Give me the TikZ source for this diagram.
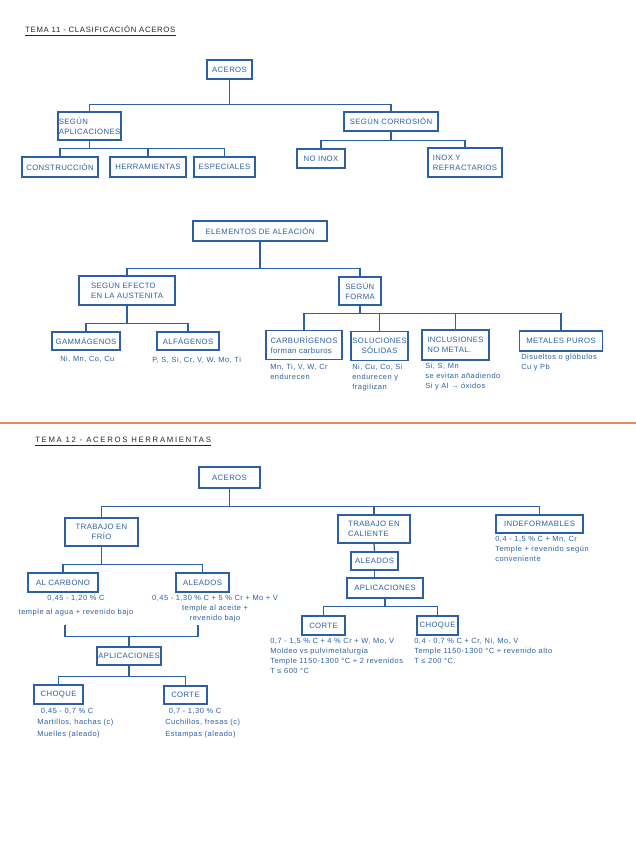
\documentclass[tikz,border=0pt]{standalone}
\usepackage{fontspec}
\setmainfont{Liberation Sans}
\newfontfamily\handcaps[LetterSpace=5]{Liberation Sans}
\newfontfamily\handnote[LetterSpace=7]{Liberation Sans}
\newfontfamily\handtitleA[LetterSpace=9]{Liberation Sans}
\newfontfamily\handtitleB[LetterSpace=22]{Liberation Sans}
\newcommand\bxfont{\fontsize{5.5}{7.2}\selectfont\handcaps}
\newcommand\ntfont{\fontsize{5.3}{7}\selectfont\handnote}
\usepackage{tikz}
\usetikzlibrary{positioning,calc}
\definecolor{ink}{RGB}{44,95,163}
\definecolor{peach}{RGB}{240,135,100}

\begin{document}
\begin{tikzpicture}[x=0.025cm, y=-0.025cm,
  box/.style={draw=ink, line width=0.9pt, inner sep=0pt, text=ink,
              font=\bxfont, align=center},
  wh/.style 2 args={minimum width=#1*0.025cm, minimum height=#2*0.025cm},
  note/.style={font=\ntfont, text=ink, inner sep=0pt, align=left},
  link/.style={draw=ink, line width=0.9pt},
  heading/.style={black!85, anchor=west, inner sep=0pt},
]
\useasboundingbox (0,0) rectangle (636,848);
\fill[white] (0,0) rectangle (636,848);

% ============ TEMA 11: clasificacion aceros ============
\node[heading, font=\fontsize{5.5}{7}\selectfont\handtitleA] (t1) at (25,29) {TEMA 11 - CLASIFICACIÓN ACEROS};
\draw[black!85, line width=0.8pt] ([yshift=-2pt]t1.south west) -- ([yshift=-2pt]t1.south east);

\node[box, wh={45}{19}] (acerosA) at (229.5,69.5) {ACEROS};
\node[box, wh={63}{28}, align=left] (aplicA) at (89.5,126) {SEGÚN\\APLICACIONES};
\node[box, wh={94}{19}] (corrA) at (391,121.5) {SEGÚN CORROSIÓN};

\node[box, wh={76}{20}] (constr) at (60,167) {CONSTRUCCIÓN};
\node[box, wh={76}{20}] (herr) at (148,167) {HERRAMIENTAS};
\node[box, wh={61}{20}] (espec) at (224.5,167) {ESPECIALES};
\node[box, wh={48}{19}] (noinox) at (321,158.5) {NO INOX};
\node[box, wh={74}{29}, align=left] (inox) at (465,162.5) {INOX Y\\REFRACTARIOS};

\draw[link] (acerosA.south) -- ++(0,25) coordinate (j1);
\draw[link] (aplicA.north) |- (j1) -| (corrA.north);
\draw[link] (aplicA.south) -- ++(0,8) coordinate (j2);
\draw[link] (constr.north) |- (j2) -| (espec.north);
\draw[link] (herr.north) -- (herr.north |- j2);
\draw[link] (corrA.south) -- ++(0,9) coordinate (j3);
\draw[link] (noinox.north) |- (j3) -| (inox.north);

% ============ ELEMENTOS DE ALEACION ============
\node[box, wh={134}{20}] (elem) at (260,231) {ELEMENTOS DE ALEACIÓN};
\node[box, wh={96}{29}, align=left] (efecto) at (127,290.5) {SEGÚN EFECTO\\EN LA AUSTENITA};
\node[box, wh={42}{28}, align=left] (forma) at (360,291) {SEGÚN\\FORMA};

\node[box, wh={68}{18}] (gamma) at (86,341) {GAMMÁGENOS};
\node[box, wh={62}{18}] (alfa) at (188,341) {ALFÁGENOS};
\node[box, wh={76}{29}, align=left] (carbu) at (304,345) {CARBURÍGENOS\\forman carburos};
\node[box, wh={57}{29}] (soluc) at (379.5,346) {SOLUCIONES\\SÓLIDAS};
\node[box, wh={67}{30}, align=left] (inclu) at (455.5,345) {INCLUSIONES\\NO METAL.};
\node[box, wh={83}{20}] (metal) at (561,341) {METALES PUROS};

\node[note, anchor=west] (gammaNt) at (60,359) {Ni, Mn, Co, Cu};
\node[note, anchor=west] (alfaNt) at (152,360) {P, S, Si, Cr, V, W, Mo, Ti};
\node[note, anchor=north west] (carbuNt) at (270,364) {Mn, Ti, V, W, Cr\\endurecen};
\node[note, anchor=north west] (solucNt) at (352,364) {Ni, Cu, Co, Si\\endurecen y\\fragilizan};
\node[note, anchor=north west] (incluNt) at (425,363) {Si, S, Mn\\se evitan añadiendo\\Si y Al → óxidos};
\node[note, anchor=north west] (metalNt) at (521,354) {Disueltos o glóbulos\\Cu y Pb};

\draw[link] (elem.south) -- ++(0,27) coordinate (j4);
\draw[link] (efecto.north) |- (j4) -| (forma.north);
\draw[link] (efecto.south) -- ++(0,18) coordinate (j5);
\draw[link] (gamma.north) |- (j5) -| (alfa.north);
\draw[link] (forma.south) -- ++(0,8) coordinate (j6);
\draw[link] (carbu.north) |- (j6) -| (metal.north);
\draw[link] (soluc.north) -- (soluc.north |- j6);
\draw[link] (inclu.north) -- (inclu.north |- j6);

% page split
\draw[peach, line width=1.6pt] (0,423) -- (636,423);

% ============ TEMA 12: aceros herramientas ============
\node[heading, font=\fontsize{5.5}{7}\selectfont\handtitleB] (t2) at (35,440) {TEMA 12 - ACEROS HERRAMIENTAS};
\draw[black!85, line width=0.8pt] ([yshift=-2pt]t2.south west) -- ([yshift=-2pt]t2.south east);

\node[box, wh={61}{21}] (acerosB) at (229.5,477.5) {ACEROS};
\node[box, wh={73}{28}] (frio) at (101.5,532) {TRABAJO EN\\FRÍO};
\node[box, wh={72}{28}, align=left] (caliente) at (374,529) {TRABAJO EN\\CALIENTE};
\node[box, wh={87}{18}] (indef) at (539.5,524) {INDEFORMABLES};

\draw[link] (acerosB.south) -- ++(0,18) coordinate (j7);
\draw[link] (frio.north) |- (j7) -| (indef.north);
\draw[link] (caliente.north) -- (caliente.north |- j7);

\node[note, anchor=north west] (indefNt) at (495,536) {0,4 - 1,5 \% C + Mn, Cr\\Temple + revenido según\\conveniente};

% trabajo en frio
\node[box, wh={70}{19}] (carbono) at (63,582.5) {AL CARBONO};
\node[box, wh={53}{19}] (aleadosL) at (202.5,582.5) {ALEADOS};
\draw[link] (frio.south) -- ++(0,18) coordinate (j8);
\draw[link] (carbono.north) |- (j8) -| (aleadosL.north);

\node[note, anchor=north, align=center] (carbonoNt) at (76,595) {0,45 - 1,20 \% C\\[3pt]temple al agua + revenido bajo};
\node[note, anchor=north, align=center] (aleadosLNt) at (215,595) {0,45 - 1,30 \% C + 5 \% Cr + Mo + V\\temple al aceite +\\revenido bajo};

\node[box, wh={64}{18}] (aplicL) at (129,656) {APLICACIONES};
\coordinate (cbEnd) at (65,625);
\coordinate (alEnd) at (198,625);
\draw[link] (aplicL.north) -- ++(0,-10) coordinate (j9);
\draw[link] (cbEnd) |- (j9) -| (alEnd);

\node[box, wh={49}{19}] (choqueL) at (58.5,694.5) {CHOQUE};
\node[box, wh={43}{18}] (corteL) at (185.5,695) {CORTE};
\draw[link] (aplicL.south) -- ++(0,11) coordinate (j10);
\draw[link] (choqueL.north) |- (j10) -| (corteL.north);

\node[note] (choqueLNt) at (67,711) {0,45 - 0,7 \% C};
\node[note, anchor=north west] (choqueLEx) at (37,718.5) {Martillos, hachas (c)\\[2pt]Muelles (aleado)};
\node[note] (corteLNt) at (195,711) {0,7 - 1,30 \% C};
\node[note, anchor=north west] (corteLEx) at (165,718.5) {Cuchillos, fresas (c)\\[2pt]Estampas (aleado)};

% trabajo en caliente
\node[box, wh={47}{18}] (aleadosR) at (374.5,561) {ALEADOS};
\node[box, wh={76}{20}] (aplicR) at (385,588) {APLICACIONES};
\draw[link] (caliente.south) -- (aleadosR.north);
\draw[link] (aleadosR.south) -- (aleadosR.south |- aplicR.north);

\node[box, wh={43}{19}] (corteR) at (323.5,625.5) {CORTE};
\node[box, wh={41}{19}] (choqueR) at (437.5,625.5) {CHOQUE};
\draw[link] (aplicR.south) -- ++(0,8) coordinate (j11);
\draw[link] (corteR.north) |- (j11) -| (choqueR.north);

\node[note, anchor=north west] (corteRNt) at (270,638) {0,7 - 1,5 \% C + 4 \% Cr + W, Mo, V\\Moldeo vs pulvimetalurgia\\Temple 1150-1300 °C + 2 revenidos\\T ≤ 600 °C};
\node[note, anchor=north west] (choqueRNt) at (414,638) {0,4 - 0,7 \% C + Cr, Ni, Mo, V\\Temple 1150-1300 °C + revenido alto\\T ≤ 200 °C.};

\end{tikzpicture}
\end{document}
